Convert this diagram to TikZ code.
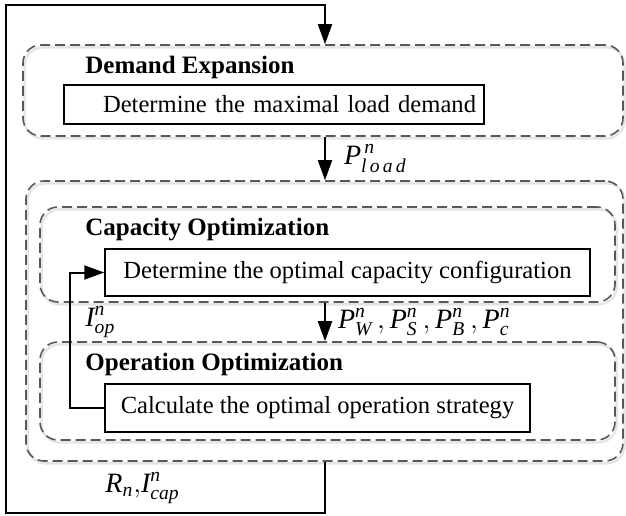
\documentclass[tikz,border=0pt]{standalone}
\usepackage{amsmath}
\usepackage{fontspec}
\setmainfont{Liberation Serif}
\usetikzlibrary{arrows.meta}

\tikzset{
  stage/.style={draw=black!65, line width=0.8pt, dash pattern=on 5pt off 2.5pt,
    rounded corners=9pt, inner sep=0pt,
    preaction={draw=black!10, solid, line width=1.2pt, transform canvas={shift={(0.8pt,-1.2pt)}}}},
  task/.style={draw, line width=0.7pt, inner sep=0pt},
  stagetitle/.style={anchor=west, inner sep=0pt, font=\fontsize{12.5}{15}\selectfont\bfseries},
  varlabel/.style={inner sep=0pt, font=\fontsize{14}{16}\selectfont},
  flow/.style={line width=1pt, -{Triangle[length=10pt,width=7pt]}},
}

\begin{document}
\begin{tikzpicture}[x=0.5pt, y=-0.5pt, font=\fontsize{12.3}{15}\selectfont]
  \useasboundingbox (0,0) rectangle (626,515);

  % Demand Expansion
  \node[stage, minimum width=300pt, minimum height=45.5pt] (dem) at (323,90.5) {};
  \node[stagetitle] (demtitle) at (85,67) {Demand Expansion};
  \node[task, minimum width=210pt, minimum height=19.5pt, text width=202pt, align=right] (demtask) at (274,104.5)
    {Determine the maximal load demand};

  % Outer frame round the two optimizations
  \node[stage, minimum width=298.5pt, minimum height=140pt] (big) at (324.5,321) {};

  % Capacity Optimization
  \node[stage, minimum width=287.5pt, minimum height=47.5pt] (cap) at (327.5,254.5) {};
  \node[stagetitle] (captitle) at (85,230) {Capacity Optimization};
  \node[task, minimum width=242.5pt, minimum height=23.5pt] (captask) at (347.5,272.5)
    {Determine the optimal capacity configuration};

  % Operation Optimization
  \node[stage, minimum width=287.5pt, minimum height=49pt] (op) at (327.5,391) {};
  \node[stagetitle] (optitle) at (85,364) {Operation Optimization};
  \node[task, minimum width=212.5pt, minimum height=24pt] (optask) at (317.5,408)
    {Calculate the optimal operation strategy};

  % Arrows
  \coordinate (axis) at (325,0);
  \coordinate (loopbl) at (6,513);
  \coordinate (looptl) at (6,5);
  \draw[flow] (dem.south -| axis) -- (big.north -| axis)
    node[varlabel, midway, right, xshift=9pt] (pload) {$\textit{P}^{\,\textit{n}}_{\textit{l\,o\,a\,d}}$};
  \draw[flow] (cap.south -| axis) -- (op.north -| axis)
    node[varlabel, midway, right, xshift=6pt] (pgen)
    {$\textit{P}^{\textit{n}}_{\textit{W}}\,{,}\,\textit{P}^{\textit{n}}_{\textit{S}}\,{,}\,\textit{P}^{\textit{n}}_{\textit{B}}\,{,}\,\textit{P}^{\textit{n}}_{\textit{c}}$};
  \draw[flow] (optask.west) -- ++(-34,0) |- (captask.west);
  \node[varlabel, anchor=west] (iop) at (85,322) {$\textit{I}^{\textit{n}}_{\textit{op}}$};
  \draw[flow] (big.south -| axis) |- (loopbl) -- (looptl) -| (dem.north -| axis);
  \node[varlabel, anchor=west] (rcap) at (105,488) {$\textit{R}_{\textit{n}}{,}\textit{I}^{\textit{n}}_{\textit{cap}}$};
\end{tikzpicture}
\end{document}
